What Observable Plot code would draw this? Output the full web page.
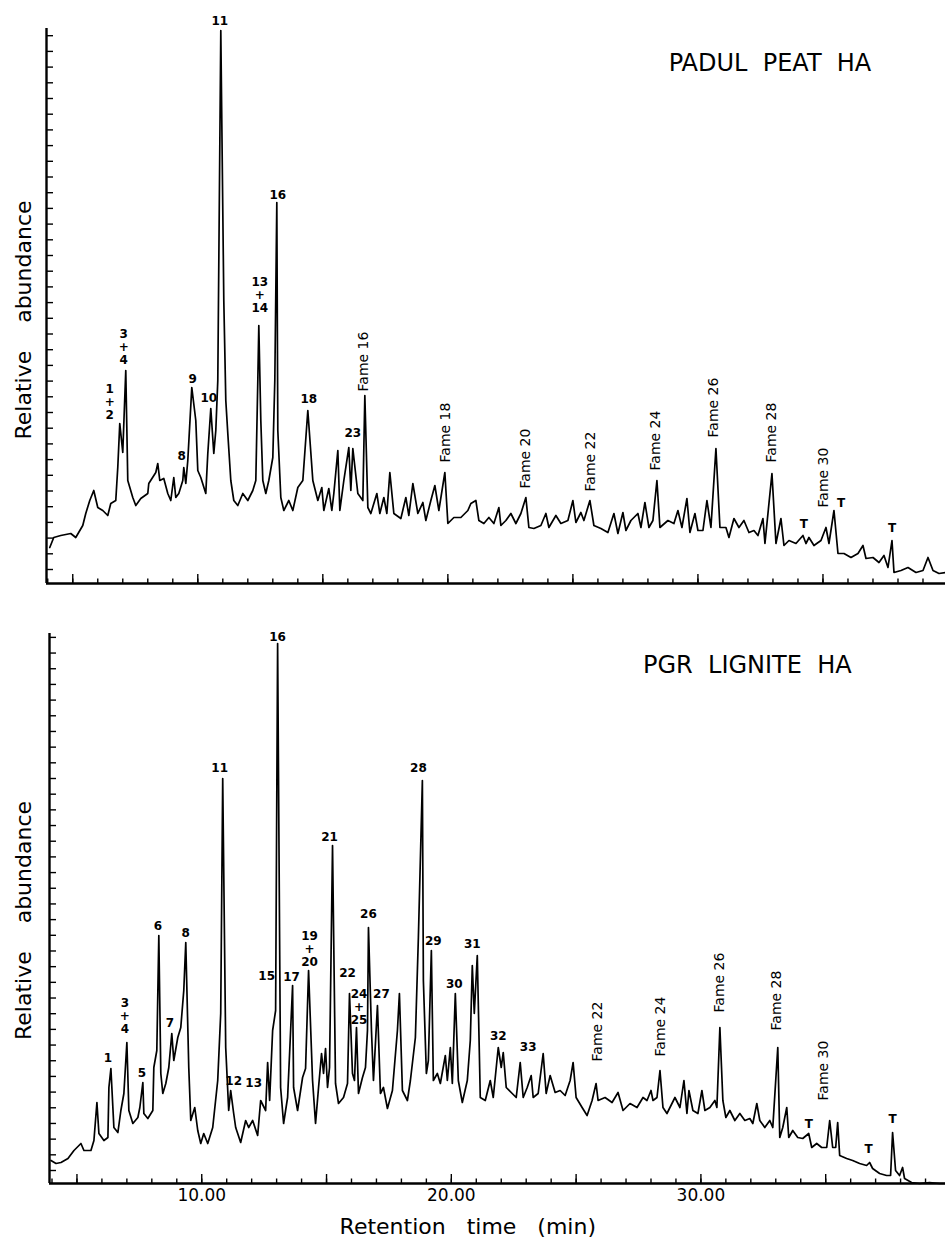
<!DOCTYPE html>
<html><head><meta charset="utf-8">
<script src="https://cdn.jsdelivr.net/npm/d3@7"></script>
<script src="https://cdn.jsdelivr.net/npm/@observablehq/plot@0.6"></script>
<style>
html,body{margin:0;padding:0;background:#fff;overflow:hidden;}
#chart svg{display:block;}
</style></head><body><div id="chart"></div>
<script>
// ---------- PADUL PEAT HA (top) ----------
const padulTime = [4.08,4.24,4.52,4.92,5.12,5.40,5.52,5.68,5.84,6.00,
6.20,6.40,6.52,6.72,6.80,6.88,7.00,7.12,7.20,7.40,
7.52,7.72,8.00,8.04,8.32,8.40,8.48,8.64,8.80,8.92,
9.04,9.12,9.24,9.40,9.44,9.52,9.60,9.76,9.92,10.00,
10.12,10.32,10.40,10.52,10.64,10.72,10.80,10.92,11.04,11.12,
11.20,11.32,11.44,11.60,11.80,12.00,12.20,12.32,12.40,12.44,
12.52,12.60,12.72,12.84,13.00,13.08,13.16,13.20,13.32,13.44,
13.64,13.80,14.00,14.20,14.40,14.60,14.80,14.96,15.04,15.24,
15.36,15.44,15.60,15.68,15.84,16.04,16.12,16.20,16.40,16.60,
16.68,16.80,16.92,17.16,17.28,17.44,17.56,17.68,17.84,18.12,
18.32,18.44,18.60,18.80,19.00,19.12,19.32,19.48,19.64,19.88,
20.00,20.24,20.52,20.80,20.92,21.12,21.24,21.44,21.64,21.84,
22.04,22.12,22.32,22.52,22.72,22.92,23.12,23.24,23.44,23.72,
23.92,24.04,24.32,24.52,24.80,25.00,25.12,25.32,25.44,25.68,
25.84,26.12,26.40,26.64,26.80,27.00,27.12,27.32,27.60,27.72,
27.88,28.04,28.20,28.36,28.48,28.80,29.04,29.20,29.36,29.56,
29.68,29.88,30.00,30.20,30.36,30.52,30.72,30.88,31.12,31.24,
31.44,31.64,31.84,32.04,32.24,32.40,32.60,32.68,32.96,33.12,
33.32,33.44,33.64,33.92,34.20,34.32,34.44,34.64,34.92,35.12,
35.24,35.44,35.60,35.84,36.12,36.40,36.60,36.72,37.00,37.24,
37.44,37.60,37.76,37.84,38.12,38.40,38.72,39.00,39.20,39.40,
39.64,39.90];
const padulAbund = [7.2,9.2,9.6,10.0,9.2,11.6,14.0,16.6,18.6,15.2,
14.6,13.6,16.0,16.6,23.2,32.0,26.2,42.6,20.6,17.2,
15.6,17.0,18.0,20.0,22.2,24.0,20.6,21.0,18.0,16.6,
21.2,17.2,18.0,20.6,23.2,20.0,24.6,39.2,32.6,22.6,
21.2,18.0,26.0,35.0,26.0,30.6,40.6,110.6,56.6,36.6,
30.0,20.6,16.6,15.6,18.0,16.6,18.6,20.6,40.6,51.6,
32.6,20.6,18.0,20.6,25.2,40.6,76.2,30.6,17.2,14.6,
16.6,14.6,19.2,20.6,34.6,20.6,16.6,19.2,14.6,19.0,
14.6,18.0,26.6,14.6,20.6,27.2,18.6,27.0,18.0,16.6,
37.6,15.2,14.0,18.0,14.0,17.2,14.0,22.2,14.0,13.0,
17.2,13.6,20.0,14.0,16.2,12.6,16.6,19.6,14.6,22.2,
12.0,13.2,13.2,14.6,16.0,16.6,12.6,12.0,13.2,12.0,
15.2,11.6,12.6,14.0,12.0,14.0,17.2,11.2,11.0,11.6,
14.0,11.2,13.6,12.0,12.6,16.6,12.2,14.2,12.6,16.6,
11.6,11.0,10.2,14.0,10.0,14.2,10.6,12.6,14.0,11.2,
16.2,11.2,12.6,20.6,11.2,12.6,12.0,14.6,11.2,17.0,
10.2,14.0,10.6,10.6,16.6,11.2,27.0,11.2,11.2,9.2,
13.0,11.2,12.6,10.2,10.6,9.6,13.0,8.0,22.0,8.0,
13.0,7.6,8.6,8.0,9.6,8.0,9.2,7.6,8.6,11.2,
8.0,14.6,6.0,6.0,5.2,6.0,7.6,5.0,5.2,4.2,
5.6,3.2,8.6,2.2,2.6,3.2,2.2,2.6,5.2,2.6,
2.0,2.2];
const padulPeakLabels = ["11","16","13\n+\n14","3\n+\n4","1\n+\n2","9","10","8","18","23","T","T","T"];
const padulPeakTime   = [10.88,13.20,12.48,7.04,6.48,9.80,10.44,9.36,14.44,16.20,34.24,35.72,37.76];
const padulPeakAbund  = [112.6,77.8,57.8,47.4,36.4,41.0,37.2,25.6,37.0,30.2,12.0,16.2,11.2];
const padulFameLabels = ["Fame 16","Fame 18","Fame 20","Fame 22","Fame 24","Fame 26","Fame 28","Fame 30"];
const padulFameTime   = [16.64,19.92,23.12,25.72,28.32,30.64,32.96,35.04];
const padulFameAbund  = [44.4,30.2,25.0,24.4,28.6,35.2,30.2,21.2];

// ---------- PGR LIGNITE HA (bottom) ----------
const pgrTime = [3.96,4.16,4.36,4.64,4.88,5.16,5.28,5.56,5.68,5.80,
5.88,6.08,6.24,6.28,6.36,6.48,6.64,6.76,6.88,7.00,
7.08,7.24,7.44,7.52,7.64,7.68,7.84,8.04,8.08,8.20,
8.28,8.36,8.44,8.56,8.68,8.80,8.88,9.04,9.16,9.28,
9.36,9.48,9.56,9.72,9.84,9.96,10.08,10.24,10.44,10.64,
10.76,10.84,10.96,11.08,11.16,11.28,11.36,11.56,11.76,11.88,
12.04,12.24,12.36,12.56,12.64,12.72,12.84,12.96,13.04,13.16,
13.28,13.44,13.52,13.64,13.68,13.84,14.04,14.16,14.28,14.44,
14.56,14.68,14.80,14.88,14.96,15.04,15.12,15.24,15.36,15.48,
15.68,15.84,15.92,16.04,16.12,16.20,16.28,16.44,16.56,16.64,
16.68,16.80,16.88,17.04,17.16,17.28,17.44,17.64,17.84,17.92,
18.04,18.24,18.36,18.56,18.68,18.84,18.88,19.00,19.08,19.20,
19.28,19.44,19.56,19.76,19.84,19.96,20.04,20.16,20.28,20.44,
20.64,20.76,20.84,20.92,21.04,21.16,21.36,21.56,21.68,21.88,
22.00,22.08,22.20,22.44,22.60,22.76,22.88,23.04,23.20,23.28,
23.48,23.68,23.80,23.96,24.16,24.36,24.56,24.76,24.88,25.00,
25.24,25.44,25.64,25.80,25.88,26.16,26.44,26.68,26.88,27.16,
27.44,27.68,27.84,28.00,28.08,28.24,28.36,28.48,28.64,28.84,
28.96,29.16,29.32,29.44,29.52,29.68,29.88,30.04,30.16,30.36,
30.56,30.64,30.76,30.88,31.00,31.16,31.36,31.56,31.76,31.96,
32.08,32.24,32.36,32.56,32.76,32.88,33.08,33.16,33.28,33.44,
33.52,33.68,33.88,34.08,34.32,34.44,34.64,34.84,35.04,35.16,
35.28,35.40,35.48,35.56,35.84,36.08,36.36,36.64,36.76,36.88,
37.16,37.44,37.60,37.68,37.80,37.96,38.08,38.16,38.44,38.76,
39.16,39.56,39.76];
const pgrAbund = [4.6,4.0,4.2,5.0,6.6,8.0,6.6,6.6,8.6,16.2,
10.0,8.6,9.2,19.2,23.0,11.2,10.2,14.6,18.0,28.2,
14.6,12.0,13.2,15.2,20.2,14.0,13.0,14.6,23.2,26.6,
49.6,22.0,18.0,20.0,23.2,30.0,24.6,29.2,31.2,38.6,
48.2,23.2,12.6,15.2,10.6,8.0,10.0,8.0,11.2,20.6,
34.0,81.0,27.2,14.6,18.6,14.0,11.2,8.2,12.6,11.2,
12.6,9.6,16.6,14.6,24.2,16.6,30.6,34.6,108.0,19.2,
12.0,17.2,26.0,39.6,19.2,14.6,21.2,23.0,42.6,20.6,
12.0,19.2,26.0,22.0,27.0,19.2,23.2,67.6,20.0,16.0,
17.2,20.0,38.0,22.0,20.6,31.2,18.0,21.2,23.2,30.6,
51.2,30.6,20.6,35.6,18.0,19.2,15.0,18.6,30.6,38.0,
18.6,16.6,20.6,29.2,49.2,80.6,40.6,22.0,24.6,46.6,
20.6,22.0,20.0,25.6,20.6,27.2,20.0,38.0,20.6,16.2,
20.6,28.6,43.6,34.0,45.6,17.2,16.6,20.6,17.2,27.2,
23.2,26.2,19.2,18.0,17.2,24.2,17.2,19.2,21.6,17.2,
18.0,26.0,18.0,21.6,18.2,18.6,17.6,20.6,24.2,17.2,
15.2,13.6,16.6,20.0,16.6,17.2,16.2,18.2,14.6,16.0,
15.2,17.2,16.6,18.6,16.6,17.2,22.6,15.2,14.0,16.0,
17.2,15.2,20.6,14.0,18.6,14.6,14.0,18.6,14.6,15.2,
16.6,15.2,31.2,16.6,13.2,14.6,12.6,14.0,12.6,13.0,
12.0,16.0,12.6,11.2,12.6,11.2,27.2,9.2,11.2,15.2,
9.2,10.6,9.2,9.0,10.0,7.2,8.0,7.2,7.2,12.6,
7.2,7.2,12.2,5.6,5.0,4.6,4.0,3.6,4.2,3.0,
2.0,1.6,1.6,10.2,2.6,1.6,3.2,1.0,0.2,0,
0.2,0,0];
const pgrPeakLabels = ["1","3\n+\n4","5","6","7","8","11","12","13","15","16","17","19\n+\n20","21","22","24\n+\n25","26","27","28","29","30","31","32","33","T","T","T"];
const pgrPeakTime   = [6.24,6.92,7.60,8.24,8.72,9.36,10.72,11.28,12.08,12.60,13.04,13.60,14.32,15.12,15.84,16.30,16.68,17.20,18.68,19.28,20.12,20.84,21.88,23.08,34.32,36.72,37.68];
const pgrPeakAbund  = [25.2,33.6,22.2,51.6,32.2,50.2,83.2,20.6,20.2,41.6,109.4,41.4,47.0,69.4,42.2,35.4,54.0,38.0,83.2,48.6,40.0,48.0,29.6,27.4,12.0,7.0,13.0];
const pgrFameLabels = ["Fame 22","Fame 24","Fame 26","Fame 28","Fame 30"];
const pgrFameTime   = [25.84,28.40,30.76,33.04,34.92];
const pgrFameAbund  = [30.4,31.4,40.2,36.6,22.6];

// axis ticks / labels
const xTickLabels = [10, 20, 30];
const minorTicks = d3.range(4, 40, 1);
const majorTicks = [5, 10, 15, 20, 25, 30, 35];
const yLabel = "Relative\u00a0\u00a0\u00a0\u00a0abundance";
const xLabel = "Retention\u00a0\u00a0\u00a0time\u00a0\u00a0\u00a0(min)";

const FONT = "'DejaVu Sans', sans-serif";

function panel(o) {
  const data = o.time.map((t, i) => ({t, a: o.abund[i]}));
  const peaks = o.peakLabels.map((s, i) => ({s, t: o.peakTime[i], a: o.peakAbund[i]}));
  const fames = o.fameLabels.map((s, i) => ({s, t: o.fameTime[i], a: o.fameAbund[i]}));
  const [x0, x1] = o.xDomain;
  const yTop = o.yDomain[1];
  const yTicks = d3.range(35).map(k => o.yTick0 + o.yTickStep * k);
  const marks = [
    Plot.ruleY([0], {stroke: "black", strokeWidth: 2.4}),
    Plot.ruleX([x0], {y1: 0, y2: yTop, stroke: "black", strokeWidth: 2.4}),
    Plot.ruleX(minorTicks.filter(d => d > x0 && d < x1), {y1: 0, y2: 0.9, stroke: "black", strokeWidth: 1.4}),
    Plot.ruleX(majorTicks, {y1: 0, y2: 1.8, stroke: "black", strokeWidth: 1.4}),
    Plot.ruleY(yTicks, {x1: x0, x2: x0 + 0.28, stroke: "black", strokeWidth: 1.4}),
    Plot.line(data, {x: "t", y: "a", stroke: "black", strokeWidth: 1.7, strokeLinejoin: "round"}),
    Plot.text(peaks, {x: "t", y: "a", text: "s", fontSize: 12, fontWeight: "bold", lineHeight: 1.08, fill: "black"}),
    Plot.text(fames, {x: "t", y: "a", text: "s", rotate: -90, fontSize: 14, fill: "black"}),
    Plot.text([o.title], {x: o.titleTime, y: o.titleAbund, text: d => d, fontSize: 24, fill: "black"}),
    Plot.text([yLabel], {frameAnchor: "left", textAnchor: "middle", text: d => d, rotate: -90, dx: o.yLabelDx, dy: o.yLabelDy, fontSize: 22, fill: "black"})
  ];
  if (o.bottom) {
    marks.push(Plot.text(xTickLabels, {x: d => d, frameAnchor: "bottom", dy: 17, text: d => d.toFixed(2), fontSize: 17, fill: "black"}));
    marks.push(Plot.text([xLabel], {x: o.xLabelTime, frameAnchor: "bottom", dy: 50, text: d => d, fontSize: 22, fill: "black"}));
  }
  return Plot.plot({
    width: 945,
    height: o.height,
    marginTop: o.marginTop,
    marginBottom: o.marginBottom,
    marginLeft: o.marginLeft,
    marginRight: 0,
    x: {domain: o.xDomain, axis: null},
    y: {domain: o.yDomain, axis: null},
    style: {fontFamily: FONT, background: "white", color: "black", overflow: "visible"},
    marks
  });
}

const chart = document.getElementById("chart");
chart.append(panel({
  time: padulTime, abund: padulAbund,
  peakLabels: padulPeakLabels, peakTime: padulPeakTime, peakAbund: padulPeakAbund,
  fameLabels: padulFameLabels, fameTime: padulFameTime, fameAbund: padulFameAbund,
  xDomain: [3.95, 39.9], yDomain: [0, 111],
  yTick0: 2.8, yTickStep: 3.14,
  height: 600, marginTop: 28, marginBottom: 17, marginLeft: 46,
  title: "PADUL\u00a0\u00a0PEAT\u00a0\u00a0HA", titleTime: 32.88, titleAbund: 104.1,
  yLabelDx: -23, yLabelDy: 14, bottom: false
}));
chart.append(panel({
  time: pgrTime, abund: pgrAbund,
  peakLabels: pgrPeakLabels, peakTime: pgrPeakTime, peakAbund: pgrPeakAbund,
  fameLabels: pgrFameLabels, fameTime: pgrFameTime, fameAbund: pgrFameAbund,
  xDomain: [3.9, 39.8], yDomain: [0, 110],
  yTick0: 2.6, yTickStep: 3.136,
  height: 645, marginTop: 33, marginBottom: 62, marginLeft: 49,
  title: "PGR\u00a0\u00a0LIGNITE\u00a0\u00a0HA", titleTime: 31.86, titleAbund: 103.6,
  yLabelDx: -26, yLabelDy: 12, bottom: true, xLabelTime: 20.66
}));
</script>
</body></html>
